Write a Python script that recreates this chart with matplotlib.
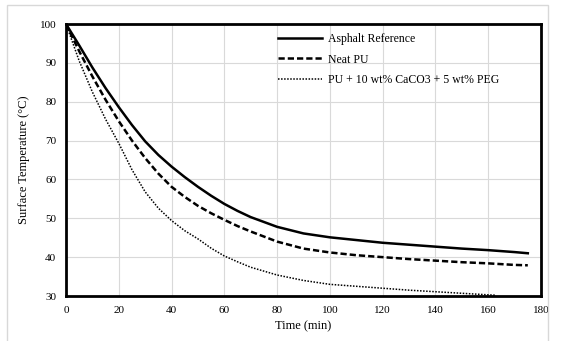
import matplotlib
matplotlib.use("Agg")
import matplotlib.pyplot as plt
from matplotlib.patches import Rectangle

# surface temperature cooling curves
t_asphalt = [0, 5, 10, 15, 20, 25, 30, 35, 40, 45, 50, 55, 60, 65, 70, 80, 90, 100,
             110, 120, 130, 140, 150, 160, 170, 175]
asphalt = [100, 94.5, 88.8, 83.5, 78.6, 74.0, 69.8, 66.3, 63.3, 60.6, 58.1, 55.8, 53.7, 51.9,
           50.3, 47.8, 46.1, 45.1, 44.4, 43.7, 43.2, 42.7, 42.2, 41.8, 41.3, 41.0]

t_neat = [0, 5, 10, 15, 20, 25, 30, 35, 40, 45, 50, 55, 60, 65, 70, 80, 90, 100,
          110, 120, 130, 140, 150, 160, 170, 175]
neat_pu = [100, 93.0, 86.5, 80.5, 75.0, 70.0, 65.5, 61.5, 58.1, 55.5, 53.2, 51.3, 49.6, 48.0,
           46.6, 44.0, 42.2, 41.2, 40.5, 40.0, 39.5, 39.1, 38.7, 38.4, 38.0, 37.9]

t_pcm = [0, 5, 10, 15, 20, 25, 30, 35, 40, 45, 50, 55, 60, 65, 70, 80, 90, 100,
         110, 120, 130, 140, 150, 160, 163]
pu_pcm = [100, 90.5, 82.5, 75.5, 69.3, 62.5, 56.8, 52.6, 49.4, 46.8, 44.7, 42.3, 40.3, 38.8,
          37.4, 35.4, 34.0, 33.0, 32.5, 32.0, 31.5, 31.1, 30.7, 30.3, 30.2]

labels = ['Asphalt Reference', 'Neat PU', 'PU + 10 wt% CaCO3 + 5 wt% PEG']

plt.rcParams['font.family'] = ['Liberation Serif', 'DejaVu Serif']

fig = plt.figure(figsize=(5.63, 3.41), dpi=100)
fig.patches.append(Rectangle((7 / 563, -0.01), (548 - 7) / 563, (341 - 5) / 341 + 0.01,
                             transform=fig.transFigure, fill=False,
                             edgecolor='#d8d8d8', linewidth=1.0))
ax = fig.add_axes([66 / 563, 45 / 341, 475 / 563, 272 / 341])

ax.plot(t_asphalt, asphalt, color='black', lw=1.8, label=labels[0])
ax.plot(t_neat, neat_pu, color='black', lw=1.8, dashes=(2.5, 1.2), label=labels[1])
ax.plot(t_pcm, pu_pcm, color='black', lw=1.1, dashes=(1, 1), label=labels[2])

ax.set_xlim(0, 180)
ax.set_ylim(30, 100)
ax.set_xticks(range(0, 181, 20))
ax.set_yticks(range(30, 101, 10))
ax.tick_params(length=0, labelsize=8, pad=7)
ax.grid(True, color='#d9d9d9', lw=0.8)
ax.set_axisbelow(True)
for s in ax.spines.values():
    s.set_linewidth(2.0)

ax.set_xlabel('Time (min)', fontsize=9, labelpad=4)
ax.set_ylabel('Surface Temperature (\u00b0C)', fontsize=9, labelpad=7)

ax.legend(loc='upper left', bbox_to_anchor=(0.423, 1.005), frameon=False,
          fontsize=8.5, handlelength=3.8, handletextpad=0.5, labelspacing=0.7)

fig.savefig('out.png', dpi=100)
